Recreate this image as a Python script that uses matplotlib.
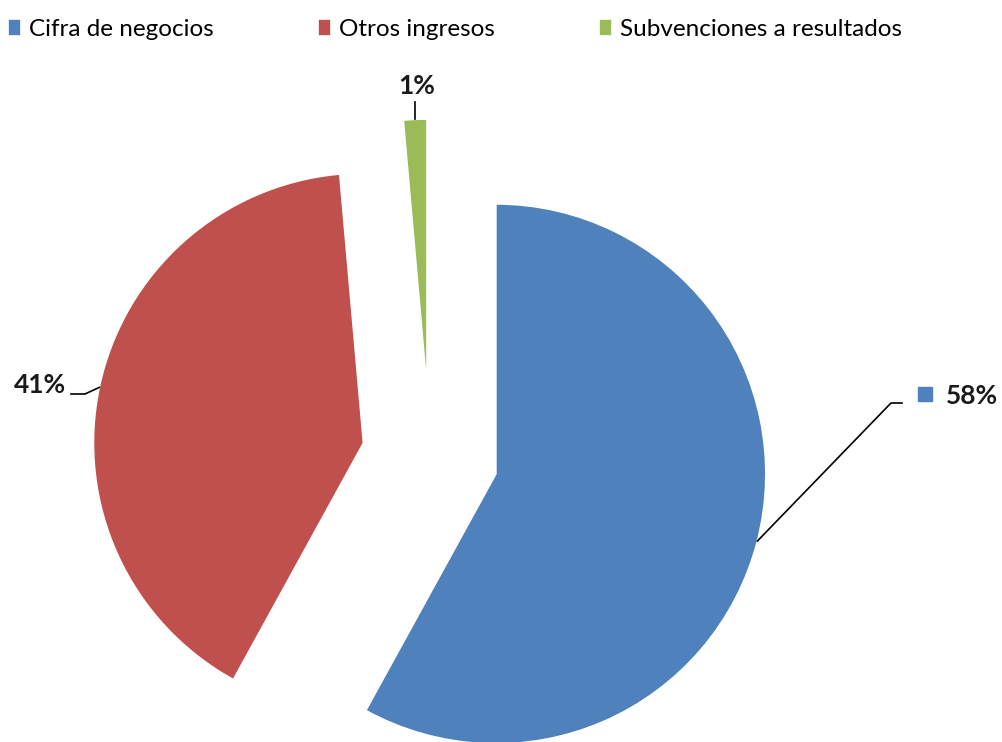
import numpy as np
import matplotlib.pyplot as plt
from matplotlib.patches import Rectangle

# data
categories = ["Cifra de negocios", "Otros ingresos", "Subvenciones a resultados"]
values = [58.0, 40.6, 1.4]
pct_labels = ["58%", "41%", "1%"]
colors = ["#4F81BD", "#C0504D", "#9BBB59"]

W, H = 1003, 742
fig = plt.figure(figsize=(W / 100, H / 100), dpi=100)
ax = fig.add_axes([0, 0, 1, 1])

cx, cy, r = 430, H - 457, 270
wedges, _ = ax.pie(values, colors=colors, startangle=90, counterclock=False,
                   center=(cx, cy), radius=r, explode=[68] * 3,
                   wedgeprops=dict(edgecolor="white", linewidth=1.2))
ax.set_xlim(0, W)
ax.set_ylim(0, H)
ax.set_aspect("equal")
ax.axis("off")

lbl_font = dict(family="Lato", fontsize=19, fontweight="bold", color="#1a1a1a")

# anchor points on each wedge's outer arc (mid angle)
def anchor(w):
    mid = np.deg2rad((w.theta1 + w.theta2) / 2)
    x0, y0 = w.center
    return x0 + w.r * np.cos(mid), y0 + w.r * np.sin(mid)

# blue 58%
ax_, ay_ = anchor(wedges[0])
ax.plot([ax_, 891, 902], [ay_, H - 403, H - 403], color="black", lw=1.2)
ax.add_patch(Rectangle((918, H - 401), 14, 14, color=colors[0]))
ax.text(946, H - 396, pct_labels[0], ha="left", va="center", **lbl_font)

# red 41%
ax_, ay_ = anchor(wedges[1])
ax.plot([ax_, 85, 71], [ay_, H - 394, H - 394], color="black", lw=1.2)
ax.text(66, H - 385, pct_labels[1], ha="right", va="center", **lbl_font)

# green 1%
ax_, ay_ = anchor(wedges[2])
ax.plot([ax_, ax_], [ay_, ay_ + 17], color="black", lw=1.2)
ax.text(ax_ + 2, ay_ + 33, pct_labels[2], ha="center", va="center", **lbl_font)

leg = ax.legend(wedges, categories, loc="upper left", bbox_to_anchor=(0.008, 0.975),
                ncol=3, frameon=False, prop=dict(family="Lato", size=17.5),
                handlelength=0.55, handleheight=0.7, handletextpad=0.3,
                columnspacing=4.3, borderaxespad=0.0, borderpad=0.0)

fig.savefig("out.png", dpi=100)
